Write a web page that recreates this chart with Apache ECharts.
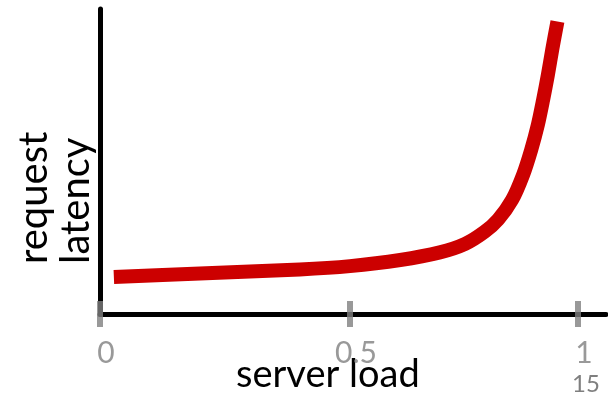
<!DOCTYPE html>
<html>
<head>
<meta charset="utf-8">
<script src="https://cdn.jsdelivr.net/npm/echarts@6/dist/echarts.min.js"></script>
<style>
html,body{margin:0;padding:0;background:#fff;}
#chart{width:608px;height:398px;}
</style>
</head>
<body>
<div id="chart"></div>
<script>
// server load (x) and request latency (y, arbitrary units)
var load =    [0.029, 0.209, 0.418, 0.523, 0.628, 0.711, 0.764, 0.805, 0.833, 0.862, 0.885, 0.902, 0.916, 0.927, 0.937, 0.946, 0.957];
var latency = [12.1,  13.3,  14.6,  15.7,  17.7,  20.2,  23.0,  27.0,  31.0,  37.4,  45.6,  53.8,  62.0,  70.2,  78.4,  86.6,  95.9];
// tick marks on the load axis
var tickPositions = [0, 0.523, 1];
var tickLabels = ['0', '0.5', '1'];
var xName = 'server load';
var yName = 'request\nlatency';
var slideNumber = '15';

var FONT = 'Lato, "Open Sans", sans-serif';
var chart = echarts.init(document.getElementById('chart'), null, {renderer: 'canvas'});

var curve = load.map(function (v, i) { return [v, latency[i]]; });
var ticks = tickPositions.map(function (v) { return [v, 0]; });

chart.setOption({
  animation: false,
  backgroundColor: '#ffffff',
  grid: {left: 100, right: 2, top: 9, bottom: 84, containLabel: false},
  xAxis: {
    type: 'value', min: 0, max: 506 / 478,
    axisLine: {show: true, onZero: false, lineStyle: {color: '#000', width: 5}},
    axisTick: {show: false}, axisLabel: {show: false}, splitLine: {show: false}
  },
  yAxis: {
    type: 'value', min: 0, max: 100, offset: 2.5,
    axisLine: {show: true, lineStyle: {color: '#000', width: 5}},
    axisTick: {show: false}, axisLabel: {show: false}, splitLine: {show: false}
  },
  series: [
    {
      type: 'line', data: curve, smooth: 0.3,
      showSymbol: false, clip: false, z: 3,
      lineStyle: {color: '#cc0000', width: 14, cap: 'butt', join: 'round'}
    },
    {
      type: 'scatter', data: ticks, symbol: 'rect', symbolSize: [6, 26], clip: false, z: 4,
      itemStyle: {color: '#7f7f7f'},
      label: {
        show: true, position: 'bottom', distance: 11, offset: [6, 0],
        color: '#7f7f7f', fontFamily: FONT, fontSize: 30,
        formatter: function (p) { return tickLabels[p.dataIndex]; }
      }
    }
  ],
  graphic: [
    {type: 'text', left: 236, top: 356, style: {text: xName, fill: '#000', font: '38px ' + FONT}},
    {type: 'text', x: 13, y: 264, rotation: Math.PI / 2,
     style: {text: yName, fill: '#000', font: '40px ' + FONT, textAlign: 'left', textVerticalAlign: 'top', lineHeight: 42}},
    {type: 'text', left: 572, top: 372, style: {text: slideNumber, fill: '#7f7f7f', font: '24px ' + FONT}}
  ]
});
</script>
</body>
</html>
